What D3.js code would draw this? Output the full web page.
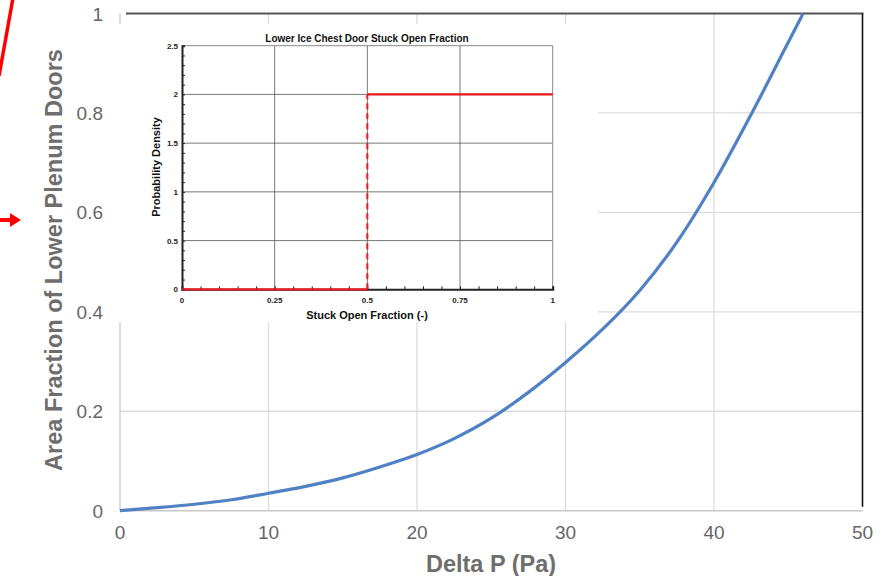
<html>
<head>
<meta charset='UTF-8'>
<script src="https://d3js.org/d3.v7.min.js"></script>
<style>
  body { margin: 0; background: #fff; }
  text { font-family: "Liberation Sans", Arial, sans-serif; }
</style>
</head>
<body>
<svg id="chart" width="881" height="576"></svg>
<script>
// main curve: Delta P (Pa) vs area fraction
const deltaP = [0, 2.5, 5, 7.5, 10, 12.5, 15, 17.5, 20, 22.5, 25, 27.5, 30, 32.5, 35, 37.5, 40, 42.5, 45, 46];
const areaFrac = [0, 0.006, 0.013, 0.022, 0.035, 0.049, 0.066, 0.088, 0.113, 0.145, 0.186, 0.238, 0.298, 0.365, 0.443, 0.540, 0.660, 0.797, 0.942, 1.0];
const mainXTicks = [0, 10, 20, 30, 40, 50];
const mainYTicks = [0, 0.2, 0.4, 0.6, 0.8, 1];

// inset: uniform pdf on [0.5, 1]
const pdfLowX = [0, 0.5];
const pdfLowY = [0, 0];
const pdfHighX = [0.5, 1];
const pdfHighY = [2, 2];
const insetXTicks = [0, 0.25, 0.5, 0.75, 1];
const insetYTicks = [0, 0.5, 1, 1.5, 2, 2.5];

const svg = d3.select('svg#chart');

// ---- main chart ----
const x = d3.scaleLinear().domain([0, 50]).range([120, 862.5]);
const y = d3.scaleLinear().domain([0, 1]).range([510.7, 13.5]);

// grid
svg.append('g').selectAll('line').data(mainXTicks.slice(1, -1)).join('line')
   .attr('x1', d => x(d)).attr('x2', d => x(d))
   .attr('y1', y(1)).attr('y2', y(0))
   .attr('stroke', '#dcdcdc').attr('stroke-width', 1.3);
svg.append('g').selectAll('line').data(mainYTicks.slice(1, -1)).join('line')
   .attr('x1', x(0)).attr('x2', x(50))
   .attr('y1', d => y(d)).attr('y2', d => y(d))
   .attr('stroke', '#dcdcdc').attr('stroke-width', 1.3);

// axes lines
svg.append('line').attr('x1', x(0)).attr('x2', x(50)).attr('y1', y(0)).attr('y2', y(0))
   .attr('stroke', '#c8c8c8').attr('stroke-width', 1.5);
svg.append('line').attr('x1', x(0)).attr('x2', x(0)).attr('y1', y(1)).attr('y2', y(0))
   .attr('stroke', '#d0d0d0').attr('stroke-width', 1.5);
svg.append('line').attr('x1', x(0) + 6).attr('x2', x(50) + 1).attr('y1', y(1)).attr('y2', y(1))
   .attr('stroke', '#555').attr('stroke-width', 2.2);
svg.append('line').attr('x1', x(50)).attr('x2', x(50)).attr('y1', y(1)).attr('y2', y(0) - 4)
   .attr('stroke', '#111').attr('stroke-width', 1.6);

// tick labels
svg.append('g').selectAll('text').data(mainXTicks).join('text')
   .attr('x', d => x(d)).attr('y', 539)
   .attr('text-anchor', 'middle').attr('font-size', 19).attr('fill', '#666')
   .text(d => d);
svg.append('g').selectAll('text').data(mainYTicks).join('text')
   .attr('x', 103).attr('y', d => y(d) + 7)
   .attr('text-anchor', 'end').attr('font-size', 19).attr('fill', '#666')
   .text(d => d);

// axis titles
svg.append('text').attr('x', 491).attr('y', 572)
   .attr('text-anchor', 'middle').attr('font-size', 23.5).attr('font-weight', 'bold').attr('fill', '#6e6e6e')
   .text('Delta P (Pa)');
svg.append('text').attr('transform', 'translate(62,260) rotate(-90)')
   .attr('text-anchor', 'middle').attr('font-size', 23.5).attr('font-weight', 'bold').attr('fill', '#6e6e6e')
   .text('Area Fraction of Lower Plenum Doors');

// curve
const line = d3.line().x((d, i) => x(deltaP[i])).y(d => y(d)).curve(d3.curveMonotoneX);
svg.append('path').datum(areaFrac).attr('d', line)
   .attr('fill', 'none').attr('stroke', '#4f81c4').attr('stroke-width', 3.2);

// ---- inset ----
svg.append('rect').attr('x', 119).attr('y', 24).attr('width', 479).attr('height', 298).attr('fill', '#fff');

const ix = d3.scaleLinear().domain([0, 1]).range([182, 552.7]);
const iy = d3.scaleLinear().domain([0, 2.5]).range([289.3, 45.7]);
const ins = svg.append('g');

// grid
ins.selectAll('line.gx').data(insetXTicks.slice(1, -1)).join('line')
   .attr('x1', d => ix(d)).attr('x2', d => ix(d)).attr('y1', iy(2.5)).attr('y2', iy(0))
   .attr('stroke', '#555').attr('stroke-width', 0.8);
ins.selectAll('line.gy').data(insetYTicks.slice(1, -1)).join('line')
   .attr('x1', ix(0)).attr('x2', ix(1)).attr('y1', d => iy(d)).attr('y2', d => iy(d))
   .attr('stroke', '#555').attr('stroke-width', 0.8);

// frame
ins.append('line').attr('x1', ix(0)).attr('x2', ix(1)).attr('y1', iy(2.5)).attr('y2', iy(2.5))
   .attr('stroke', '#888').attr('stroke-width', 1);
ins.append('line').attr('x1', ix(1)).attr('x2', ix(1)).attr('y1', iy(2.5)).attr('y2', iy(0))
   .attr('stroke', '#888').attr('stroke-width', 1);

// axes with inward minor ticks
const ixAxis = d3.axisTop(ix).ticks(20).tickSize(3).tickFormat('');
ins.append('g').attr('transform', `translate(0,${iy(0)})`).call(ixAxis)
   .call(g => g.select('.domain').attr('stroke', '#222').attr('stroke-width', 2))
   .call(g => g.selectAll('.tick line').attr('stroke', '#222'));
const iyAxis = d3.axisRight(iy).ticks(25).tickSize(3).tickFormat('');
ins.append('g').attr('transform', `translate(${ix(0)},0)`).call(iyAxis)
   .call(g => g.select('.domain').attr('stroke', '#222').attr('stroke-width', 2))
   .call(g => g.selectAll('.tick line').attr('stroke', '#222'));

// tick labels
ins.selectAll('text.tx').data(insetXTicks).join('text')
   .attr('x', d => ix(d)).attr('y', 303)
   .attr('text-anchor', 'middle').attr('font-size', 8).attr('font-weight', 'bold').attr('fill', '#222')
   .text(d => d);
ins.selectAll('text.ty').data(insetYTicks).join('text')
   .attr('x', 178).attr('y', d => iy(d) + 3)
   .attr('text-anchor', 'end').attr('font-size', 8).attr('font-weight', 'bold').attr('fill', '#222')
   .text(d => d);

// titles
ins.append('text').attr('x', 367).attr('y', 42)
   .attr('text-anchor', 'middle').attr('font-size', 10).attr('font-weight', 'bold').attr('fill', '#111')
   .text('Lower Ice Chest Door Stuck Open Fraction');
ins.append('text').attr('x', 367).attr('y', 319)
   .attr('text-anchor', 'middle').attr('font-size', 11).attr('font-weight', 'bold').attr('fill', '#111')
   .text('Stuck Open Fraction (-)');
ins.append('text').attr('transform', 'translate(160,167) rotate(-90)')
   .attr('text-anchor', 'middle').attr('font-size', 11).attr('font-weight', 'bold').attr('fill', '#111')
   .text('Probability Density');

// pdf
const pline = d3.line().x(d => ix(d[0])).y(d => iy(d[1]));
ins.append('path').datum(d3.zip(pdfLowX, pdfLowY)).attr('d', pline)
   .attr('fill', 'none').attr('stroke', '#e8191c').attr('stroke-width', 2.2);
ins.append('path').datum([[pdfLowX[1], pdfLowY[1]], [pdfHighX[0], pdfHighY[0]]]).attr('d', pline)
   .attr('fill', 'none').attr('stroke', '#e8191c').attr('stroke-width', 2).attr('stroke-dasharray', '6,4');
ins.append('path').datum(d3.zip(pdfHighX, pdfHighY)).attr('d', pline)
   .attr('fill', 'none').attr('stroke', '#e8191c').attr('stroke-width', 2.2);

// ---- red annotation marks at left edge ----
svg.append('line').attr('x1', 13).attr('y1', -2).attr('x2', -1).attr('y2', 76)
   .attr('stroke', '#f00').attr('stroke-width', 3.5);
svg.append('line').attr('x1', 0).attr('y1', 220).attr('x2', 12).attr('y2', 220)
   .attr('stroke', '#f00').attr('stroke-width', 4);
svg.append('path').attr('d', 'M10,213 L21,220 L10,227 Z').attr('fill', '#f00');
</script>
</body>
</html>
